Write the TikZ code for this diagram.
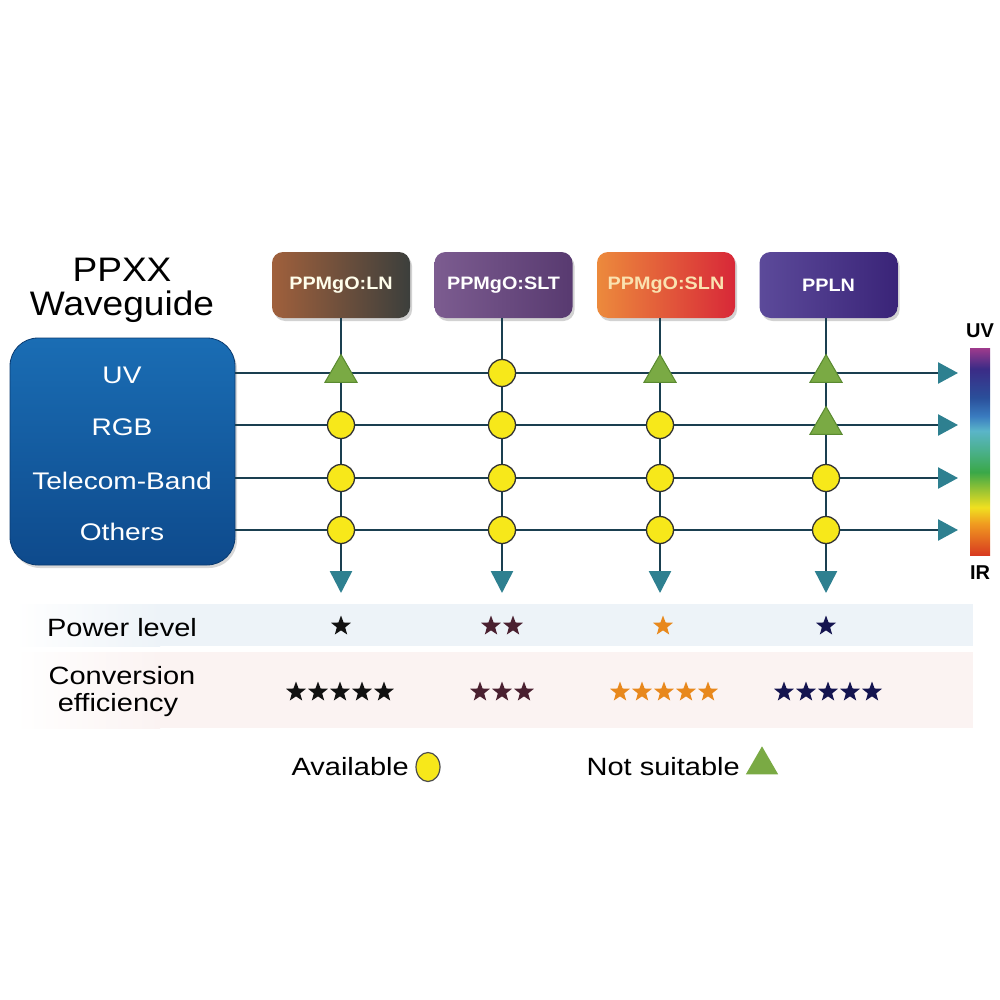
\documentclass[tikz,border=0pt]{standalone}
\usepackage{fontspec}
\setmainfont{Liberation Sans}
\usetikzlibrary{arrows.meta,shapes.geometric,shadows,calc}
\definecolor{linec}{HTML}{1A3F50}
\definecolor{arrowc}{HTML}{2E8090}
\definecolor{dotc}{HTML}{F7E81A}
\definecolor{trific}{HTML}{7AAA44}
\definecolor{trioc}{HTML}{5A8A30}
\definecolor{blueA}{HTML}{1A6DB4}
\definecolor{blueB}{HTML}{0E4A8C}
\definecolor{specred}{HTML}{D83A20}
\definecolor{specorange}{HTML}{F09A20}
\definecolor{specyellow}{HTML}{F0E020}
\definecolor{specyg}{HTML}{A8C830}
\definecolor{specgreen}{HTML}{3AA848}
\definecolor{spectg}{HTML}{4AB08A}
\definecolor{speccyan}{HTML}{5AB5C9}
\definecolor{specblue}{HTML}{3A7CC0}
\definecolor{specnavy}{HTML}{2A4F9A}
\definecolor{specindigo}{HTML}{3B2B86}
\definecolor{specmag}{HTML}{9E3A8C}
\definecolor{bandA}{HTML}{EDF3F8}
\definecolor{bandB}{HTML}{FBF3F2}
\definecolor{starA}{HTML}{111111}
\definecolor{starB}{HTML}{4A2030}
\definecolor{starC}{HTML}{E8881C}
\definecolor{starD}{HTML}{141450}
\definecolor{lnA}{RGB}{160,96,60}
\definecolor{lnM}{RGB}{100,88,80}
\definecolor{lnB}{RGB}{60,63,60}
\definecolor{sltA}{RGB}{124,92,144}
\definecolor{sltB}{RGB}{88,58,112}
\definecolor{slnA}{RGB}{236,138,60}
\definecolor{slnB}{RGB}{216,40,56}
\definecolor{slnT}{RGB}{250,226,176}
\definecolor{pplnA}{RGB}{92,74,154}
\definecolor{pplnB}{RGB}{58,36,120}
\pgfdeclareverticalshading{spectrum}{100bp}{color(0bp)=(specred); color(25bp)=(specred); color(32.5bp)=(specorange); color(36.5bp)=(specyellow); color(40bp)=(specyg); color(45bp)=(specgreen); color(50bp)=(spectg); color(55bp)=(speccyan); color(58.5bp)=(specblue); color(63bp)=(specnavy); color(70bp)=(specindigo); color(75bp)=(specmag); color(100bp)=(specmag)}
\tikzset{
  lbl/.style={font=\fontsize{25}{30}\selectfont, text=black, inner sep=0pt, xscale=1.16},
  rowlbl/.style={font=\fontsize{24}{28}\selectfont, text=white, inner sep=0pt, xscale=1.17},
  boxtext/.style={font=\bfseries\fontsize{18}{22}\selectfont, inner sep=0pt, xscale=1.1},
  topbox/.style={rounded corners=11pt, minimum width=138pt, minimum height=66pt, inner sep=0pt,
     drop shadow={shadow xshift=2pt, shadow yshift=-3pt, opacity=0.35}},
  conn/.style={draw=linec, line width=2.5pt},
  harrow/.style={conn, -{Triangle[length=20pt,width=21pt,color=arrowc]}},
  varrow/.style={conn, -{Triangle[length=22pt,width=22pt,color=arrowc]}},
  dot/.style={circle, fill=dotc, draw=black!80, line width=1.3pt, minimum size=27pt, inner sep=0pt},
  tri/.style={regular polygon, regular polygon sides=3, fill=trific, draw=trioc, line width=1pt, minimum size=37pt, inner sep=0pt},
  rate/.style={star, star points=5, star point ratio=2.4, minimum size=21pt, inner sep=0pt},
}
\begin{document}
\begin{tikzpicture}[x=1pt,y=-1pt]
\useasboundingbox (0,0) rectangle (1000,1000);
\fill[white] (0,0) rectangle (1000,1000);

% bands
\shade[left color=white, right color=bandA] (15,604) rectangle (160,646);
\fill[bandA] (160,604) rectangle (973,646);
\shade[left color=white, right color=bandB] (15,652) rectangle (160,728);
\fill[bandB] (160,652) rectangle (973,728);

% title
\node[lbl, font=\fontsize{34}{40}\selectfont, xscale=0.94] (t1) at (122,270) {PPXX};
\node[lbl, font=\fontsize{34}{40}\selectfont, xscale=0.94] (t2) at (122,307) {Waveguide};

% waveguide box
\node[rounded corners=28pt, minimum width=225pt, minimum height=227pt, inner sep=0pt,
      top color=blueA, bottom color=blueB, draw=blueB!80!black, line width=0.8pt,
      drop shadow={shadow xshift=2pt, shadow yshift=-3pt, opacity=0.3}] (wg) at (122.5,451.5) {};
\node[rowlbl] (r1) at (122,375) {UV};
\node[rowlbl] (r2) at (122,427) {RGB};
\node[rowlbl] (r3) at (122,481) {Telecom-Band};
\node[rowlbl] (r4) at (122,532) {Others};

% top boxes
\node[topbox, left color=lnA, middle color=lnM, right color=lnB] (b1) at (341,285) {};
\node[topbox, left color=sltA, right color=sltB] (b2) at (503.5,285) {};
\node[topbox, left color=slnA, right color=slnB] (b3) at (666,285) {};
\node[topbox, left color=pplnA, right color=pplnB] (b4) at (828.5,285) {};
\node[boxtext, text=white!92!yellow] (bt1) at (b1) {PPMgO:LN};
\node[boxtext, text=white] (bt2) at (b2) {PPMgO:SLT};
\node[boxtext, text=slnT] (bt3) at (b3) {PPMgO:SLN};
\node[boxtext, text=white] (bt4) at (b4) {PPLN};

% arrow ends
\coordinate (h1) at (958,373);
\coordinate (h2) at (958,425);
\coordinate (h3) at (958,478);
\coordinate (h4) at (958,530);
\coordinate (v1) at (341,593);
\coordinate (v2) at (502,593);
\coordinate (v3) at (660,593);
\coordinate (v4) at (826,593);

% connectors
\foreach \i in {1,2,3,4} {
  \draw[harrow] (wg.east |- h\i) -- (h\i);
}
\draw[varrow] (b1.south -| v1) -- (v1);
\draw[varrow] (b2.south -| v2) -- (v2);
\draw[varrow] (b3.south -| v3) -- (v3);
\draw[varrow] (b4.south -| v4) -- (v4);

% markers
\node[tri] (m11) at (341,373) {};
\node[dot] (m12) at (341,425) {};
\node[dot] (m13) at (341,478) {};
\node[dot] (m14) at (341,530) {};
\node[dot] (m21) at (502,373) {};
\node[dot] (m22) at (502,425) {};
\node[dot] (m23) at (502,478) {};
\node[dot] (m24) at (502,530) {};
\node[tri] (m31) at (660,373) {};
\node[dot] (m32) at (660,425) {};
\node[dot] (m33) at (660,478) {};
\node[dot] (m34) at (660,530) {};
\node[tri] (m41) at (826,373) {};
\node[tri] (m42) at (826,425) {};
\node[dot] (m43) at (826,478) {};
\node[dot] (m44) at (826,530) {};

% spectrum bar
\shade[shading=spectrum] (970,348) rectangle (990,555);
\node[font=\bfseries\fontsize{20}{24}\selectfont, inner sep=0pt] (uv) at (980,331) {UV};
\node[font=\bfseries\fontsize{20}{24}\selectfont, inner sep=0pt] (ir) at (980,573) {IR};

% rating labels
\node[lbl] (pl) at (122,628) {Power level};
\node[lbl] (ce1) at (122,676) {Conversion};
\node[lbl] (ce2) at (118,705) {efficiency};

% power level stars
\node[rate, fill=starA] (p1) at (341,626) {};
\node[rate, fill=starB] (p2a) at (491,626) {};
\node[rate, fill=starB] (p2b) at (513,626) {};
\node[rate, fill=starC] (p3) at (663,626) {};
\node[rate, fill=starD] (p4) at (826,626) {};

% conversion stars
\foreach \k in {0,...,4} {
  \node[rate, fill=starA] (ca\k) at (296+\k*22,692) {};
  \node[rate, fill=starC] (cc\k) at (620+\k*22,692) {};
  \node[rate, fill=starD] (cd\k) at (784+\k*22,692) {};
}
\foreach \k in {0,1,2} {
  \node[rate, fill=starB] (cb\k) at (480+\k*22,692) {};
}

% legend
\node[lbl, anchor=east] (av) at (409,767) {Available};
\node[ellipse, fill=dotc, draw=black!70, line width=1.2pt, minimum width=24pt, minimum height=29pt, inner sep=0pt] (avm) at (428,767) {};
\node[lbl, anchor=east] (ns) at (740,767) {Not suitable};
\node[isosceles triangle, shape border rotate=90, isosceles triangle apex angle=60, fill=trific, minimum height=28pt, inner sep=0pt] (nsm) at (762,765) {};
\end{tikzpicture}
\end{document}
